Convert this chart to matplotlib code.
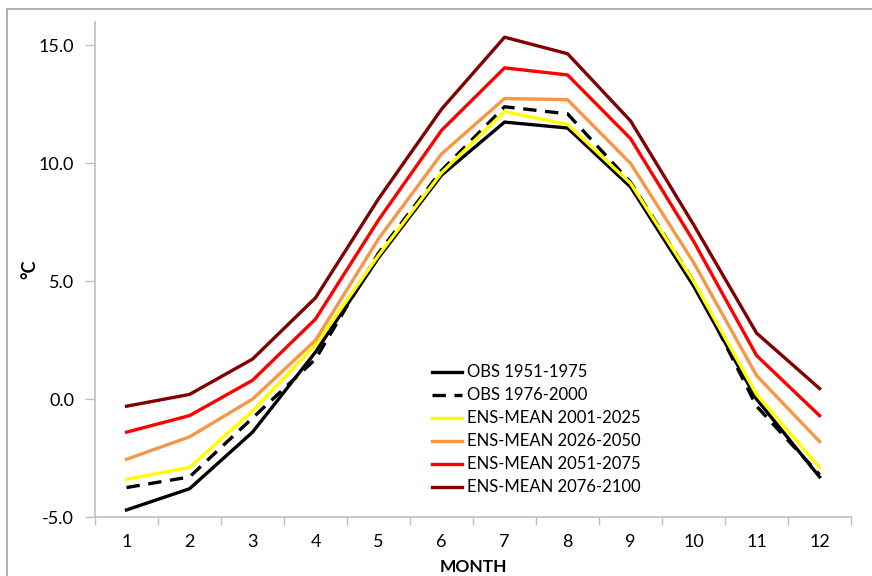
import matplotlib.pyplot as plt
import matplotlib.patches as patches
import numpy as np

months = list(range(1, 13))

obs_1951_1975 = [-4.7, -3.8, -1.4, 2.0, 6.0, 9.5, 11.75, 11.5, 9.0, 4.8, 0.0, -3.3]
obs_1976_2000 = [-3.75, -3.3, -0.8, 1.7, 6.2, 9.7, 12.4, 12.1, 9.2, 5.0, -0.3, -3.2]
ens_2001_2025 = [-3.4, -2.9, -0.5, 2.3, 6.1, 9.6, 12.2, 11.65, 9.15, 5.0, 0.2, -2.9]
ens_2026_2050 = [-2.55, -1.6, 0.0, 2.5, 6.8, 10.4, 12.75, 12.7, 10.0, 5.8, 1.0, -1.8]
ens_2051_2075 = [-1.4, -0.7, 0.8, 3.4, 7.6, 11.4, 14.05, 13.75, 11.05, 6.7, 1.85, -0.7]
ens_2076_2100 = [-0.3, 0.2, 1.7, 4.3, 8.5, 12.3, 15.35, 14.65, 11.8, 7.4, 2.8, 0.45]

plt.rcParams['font.family'] = ['Lato', 'DejaVu Sans']

fig = plt.figure(figsize=(8.72, 5.76), dpi=100)
ax = fig.add_axes([0.109, 0.1024, 0.867, 0.8596])

# outer chart frame (Excel style)
fig.patches.append(patches.Rectangle((7/872, -0.01), 1.0, 1 - 9/576 + 0.01, transform=fig.transFigure,
                                     fill=False, edgecolor='#a6a6a6', linewidth=1.2))

lw = 2.4
ax.plot(months, obs_1951_1975, color='black', lw=lw, label='OBS 1951-1975')
ax.plot(months, obs_1976_2000, color='black', lw=lw, linestyle=(0, (4, 2.6)), label='OBS 1976-2000')
ax.plot(months, ens_2001_2025, color='#ffff00', lw=lw, label='ENS-MEAN 2001-2025')
ax.plot(months, ens_2026_2050, color='#f79646', lw=lw, label='ENS-MEAN 2026-2050')
ax.plot(months, ens_2051_2075, color='#ff0000', lw=lw, label='ENS-MEAN 2051-2075')
ax.plot(months, ens_2076_2100, color='#800000', lw=lw, label='ENS-MEAN 2076-2100')

ax.set_xlim(0.5, 12.5)
ax.set_ylim(-5, 16)
ax.set_yticks([-5, 0, 5, 10, 15])
ax.set_yticklabels(['-5.0', '0.0', '5.0', '10.0', '15.0'])
ax.set_xticks(months)
ax.set_xticks(np.arange(0.5, 13, 1), minor=True)
ax.tick_params(axis='x', which='major', length=0, pad=12, labelsize=13)
ax.tick_params(axis='x', which='minor', length=6, color='#bfbfbf', width=1)
ax.tick_params(axis='y', length=7, color='#bfbfbf', width=1, pad=8, labelsize=13)

for s in ['top', 'right']:
    ax.spines[s].set_visible(False)
for s in ['left', 'bottom']:
    ax.spines[s].set_color('#bfbfbf')
    ax.spines[s].set_linewidth(1.2)

ax.set_xlabel('MONTH', fontweight='bold', fontsize=12.5, labelpad=7)
ax.set_ylabel('°C', fontweight='bold', fontsize=13, labelpad=0)

ax.legend(loc='upper left', bbox_to_anchor=(0.435, 0.325), frameon=False, fontsize=12,
          handlelength=1.8, handletextpad=0.3, labelspacing=0.42, borderpad=0)

fig.savefig('out.png', dpi=100)
